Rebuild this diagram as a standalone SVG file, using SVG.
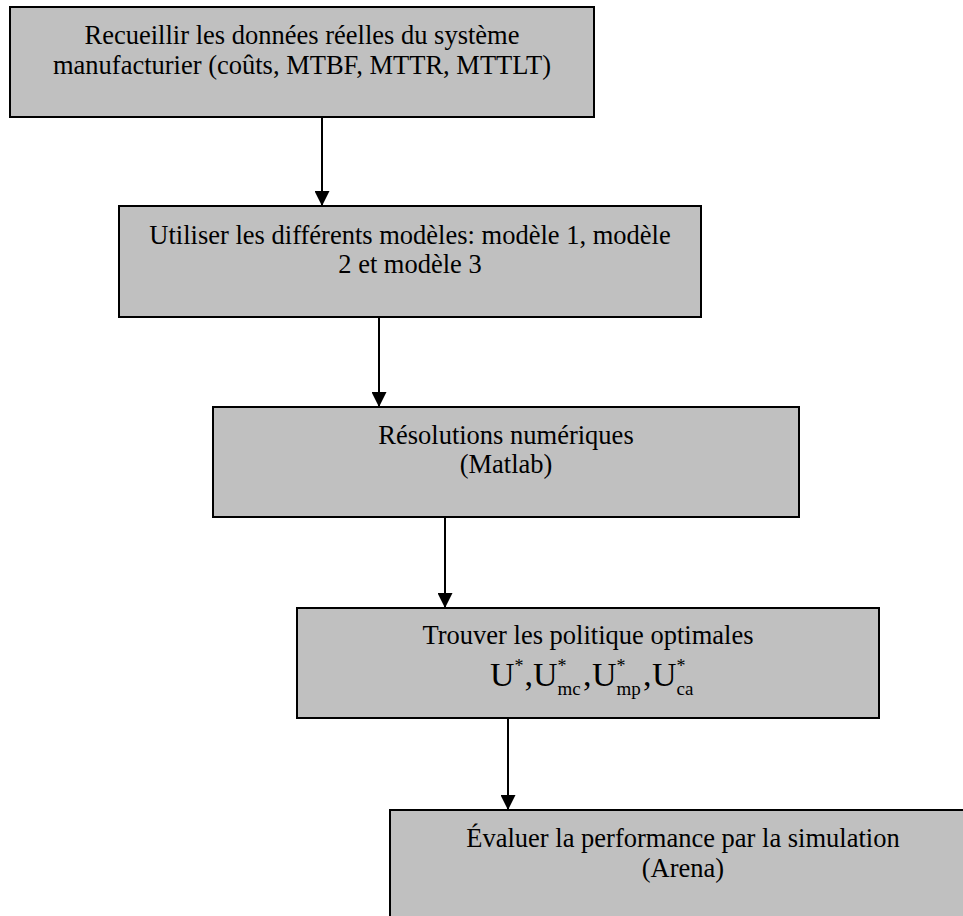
<svg xmlns="http://www.w3.org/2000/svg" width="963" height="916" viewBox="0 0 963 916">
<style>
.box{fill:#c0c0c0;stroke:#000;stroke-width:2}
.t{font-family:"Liberation Serif","Times New Roman",serif;font-size:26.5px;fill:#000;text-anchor:middle}
.f{font-family:"Liberation Serif","Times New Roman",serif;fill:#000}
.sup{font-size:18px}
.sub{font-size:19px}
.edge{stroke:#000;stroke-width:2;fill:none}
</style>
<defs>
<marker id="ah" markerWidth="15" markerHeight="15" refX="15" refY="7.5" orient="auto" markerUnits="userSpaceOnUse">
<path d="M0,0 L15,7.5 L0,15 Z" fill="#000"/>
</marker>
</defs>
<rect width="963" height="916" fill="#fff"/>
<g id="connectors">
<line class="edge" x1="322" y1="117" x2="322" y2="206" marker-end="url(#ah)"/>
<line class="edge" x1="379" y1="317" x2="379" y2="407" marker-end="url(#ah)"/>
<line class="edge" x1="445" y1="517" x2="445" y2="608" marker-end="url(#ah)"/>
<line class="edge" x1="508" y1="718" x2="508" y2="810" marker-end="url(#ah)"/>
</g>
<g id="n1">
<rect class="box" x="10" y="7" width="584" height="110"/>
<text class="t" x="302" y="44">Recueillir les données réelles du système</text>
<text class="t" x="302" y="74">manufacturier (coûts, MTBF, MTTR, MTTLT)</text>
</g>
<g id="n2">
<rect class="box" x="119" y="206" width="582" height="111"/>
<text class="t" x="410" y="244">Utiliser les différents modèles: modèle 1, modèle</text>
<text class="t" x="410" y="273">2 et modèle 3</text>
</g>
<g id="n3">
<rect class="box" x="213" y="407" width="586" height="110"/>
<text class="t" x="506" y="444">Résolutions numériques</text>
<text class="t" x="506" y="473">(Matlab)</text>
</g>
<g id="n4">
<rect class="box" x="297" y="608" width="582" height="110"/>
<text class="t" x="588" y="644">Trouver les politique optimales</text>
<text class="f" font-size="34" x="490" y="686">U</text>
<text class="f sup" x="514.5" y="672">*</text>
<text class="f" font-size="34" x="524.5" y="686">,</text>
<text class="f" font-size="34" x="533" y="686">U</text>
<text class="f sup" x="557.5" y="672">*</text>
<text class="f sub" x="557.5" y="695">mc</text>
<text class="f" font-size="34" x="583" y="686">,</text>
<text class="f" font-size="34" x="592" y="686">U</text>
<text class="f sup" x="616.5" y="672">*</text>
<text class="f sub" x="616.5" y="695">mp</text>
<text class="f" font-size="34" x="643" y="686">,</text>
<text class="f" font-size="34" x="652" y="686">U</text>
<text class="f sup" x="676.5" y="672">*</text>
<text class="f sub" x="676.5" y="695">ca</text>
</g>
<g id="n5">
<rect class="box" x="390" y="810" width="584" height="110"/>
<text class="t" x="683" y="847">Évaluer la performance par la simulation</text>
<text class="t" x="683" y="877">(Arena)</text>
</g>
</svg>
